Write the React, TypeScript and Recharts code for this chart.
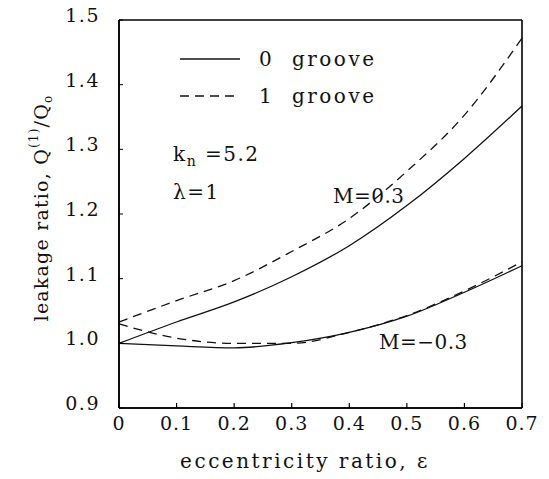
import { LineChart, Line, XAxis, YAxis } from "recharts"

// eccentricity ratio values (x)
const eps = [0, 0.1, 0.2, 0.3, 0.4, 0.5, 0.6, 0.7]
// leakage ratio
const noGroovePos = [1.0, 1.033, 1.064, 1.103, 1.151, 1.213, 1.286, 1.367]
const oneGroovePos = [1.033, 1.066, 1.097, 1.142, 1.193, 1.266, 1.353, 1.472]
const noGrooveNeg = [1.0, 0.996, 0.993, 1.001, 1.017, 1.042, 1.079, 1.12]
const oneGrooveNeg = [1.03, 1.008, 1.0, 1.0, 1.017, 1.043, 1.081, 1.126]

const yTicks = [0.9, 1.0, 1.1, 1.2, 1.3, 1.4, 1.5]

const data = eps.map((e, i) => ({
  eps: e,
  s1: noGroovePos[i],
  d1: oneGroovePos[i],
  s2: noGrooveNeg[i],
  d2: oneGrooveNeg[i],
}))

const INK = "#111"
const FONT = "DejaVu Serif, Liberation Serif, serif"

// plot box (chart margins)
const PL = 119, PR = 522, PT = 20, PB = 408

function XTick(props: any) {
  const { x, payload } = props
  const v = payload.value as number
  return (
    <g>
      <line x1={x} x2={x} y1={PB} y2={PB - 5} stroke="#000" strokeWidth={1.2} />
      <text x={x} y={PB + 22} textAnchor="middle" fontFamily={FONT} fontSize={19}
        letterSpacing={1} fill={INK}>
        {v === 0 ? "0" : v.toFixed(1)}
      </text>
    </g>
  )
}

function YTick(props: any) {
  const { y, payload } = props
  const v = payload.value as number
  return (
    <g>
      <line x1={PL} x2={PL + 4} y1={y} y2={y} stroke="#000" strokeWidth={1} />
      <text x={PL - 19} y={y + 2} textAnchor="end" fontFamily={FONT} fontSize={19}
        letterSpacing={1.5} fill={INK}>
        {v.toFixed(1)}
      </text>
    </g>
  )
}

export default function App() {
  return (
    <div style={{ position: "fixed", left: 0, top: 0, width: 549, height: 479, background: "#fff" }}>
      <LineChart width={549} height={479} data={data}
        margin={{ top: PT, right: 549 - PR, bottom: 0, left: 0 }}>
        <XAxis xAxisId="b" type="number" dataKey="eps" domain={[0, 0.7]} ticks={eps} interval={0}
          height={479 - PB} tickSize={0} tickMargin={0} tickLine={false} tick={<XTick />}
          stroke="#000" axisLine={{ stroke: "#000", strokeWidth: 1.5 }} />
        <YAxis yAxisId="l" type="number" domain={[0.9, 1.5]} ticks={yTicks} interval={0} width={PL}
          tickSize={0} tickMargin={0} tickLine={false} tick={<YTick />}
          stroke="#000" axisLine={{ stroke: "#000", strokeWidth: 1.5 }} />
        <Line xAxisId="b" yAxisId="l" type="monotone" dataKey="s1" stroke={INK} strokeWidth={1.3}
          dot={false} isAnimationActive={false} />
        <Line xAxisId="b" yAxisId="l" type="monotone" dataKey="d1" stroke={INK} strokeWidth={1.3}
          strokeDasharray="9 6" dot={false} isAnimationActive={false} />
        <Line xAxisId="b" yAxisId="l" type="monotone" dataKey="s2" stroke={INK} strokeWidth={1.3}
          dot={false} isAnimationActive={false} />
        <Line xAxisId="b" yAxisId="l" type="monotone" dataKey="d2" stroke={INK} strokeWidth={1.3}
          strokeDasharray="9 6" dot={false} isAnimationActive={false} />
      </LineChart>

      <svg style={{ position: "absolute", left: 0, top: 0 }} width={549} height={479} pointerEvents="none">
        {/* frame */}
        <g stroke="#000" strokeWidth={1.6}>
          <line x1={PL} x2={PR} y1={PT} y2={PT} />
          <line x1={PR} x2={PR} y1={PT} y2={PB} />
          <line x1={PL} x2={PR} y1={PB} y2={PB} />
          <line x1={PL} x2={PL} y1={PT} y2={PB} />
        </g>

        {/* legend */}
        <line x1={180} x2={240} y1={59} y2={59} stroke={INK} strokeWidth={1.3} />
        <line x1={180} x2={240} y1={96} y2={96} stroke={INK} strokeWidth={1.3} strokeDasharray="9 6" />
        <text x={259} y={66} fontFamily={FONT} fontSize={20} letterSpacing={2.5} fill={INK} xmlSpace="preserve">0  groove</text>
        <text x={259} y={103} fontFamily={FONT} fontSize={20} letterSpacing={2.5} fill={INK} xmlSpace="preserve">1  groove</text>

        <text x={173} y={161} fontFamily={FONT} fontSize={20} letterSpacing={1.5} fill={INK} xmlSpace="preserve">
          k<tspan fontSize={14} dy={5}>n</tspan><tspan dy={-5}> =5.2</tspan>
        </text>
        <text x={173} y={199} fontFamily={FONT} fontSize={20} letterSpacing={1.5} fill={INK}>λ=1</text>
        <text x={333} y={203} fontFamily={FONT} fontSize={20} letterSpacing={0.5} fill={INK}>M=0.3</text>
        <text x={379} y={349} fontFamily={FONT} fontSize={20} letterSpacing={0.5} fill={INK}>M=−0.3</text>

        {/* axis titles */}
        <text x={305} y={468} textAnchor="middle" fontFamily={FONT} fontSize={20} letterSpacing={2.5} fill={INK}>
          eccentricity ratio, ε
        </text>
        <text transform="translate(48,208) rotate(-90)" textAnchor="middle" fontFamily={FONT} fontSize={19}
          letterSpacing={1.2} fill={INK}>
          leakage ratio, Q<tspan fontSize={12} dy={-10}>(1)</tspan><tspan dy={10}>/Q</tspan><tspan fontSize={12} dy={4}>o</tspan>
        </text>
      </svg>
    </div>
  )
}
